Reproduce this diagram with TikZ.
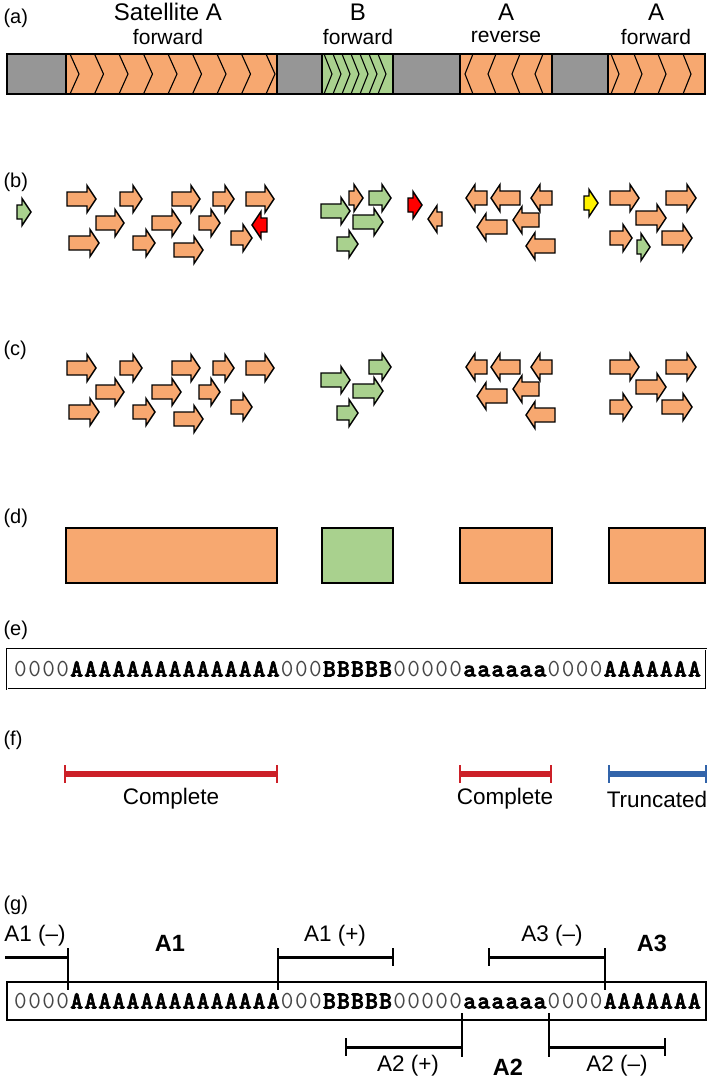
\documentclass[tikz,border=0pt]{standalone}
\usepackage{fontspec}
\setmainfont{Liberation Sans}
\newfontfamily\seqbold[FakeBold=2.5]{lmmonolt10-bold.otf}
\definecolor{sorange}{RGB}{247,168,112}
\definecolor{sgreen}{RGB}{169,209,142}
\definecolor{sgray}{RGB}{150,150,150}
\definecolor{fred}{RGB}{204,32,40}
\definecolor{fblue}{RGB}{50,100,170}
\definecolor{zgray}{RGB}{70,70,70}
\tikzset{
  arr/.style={draw=black, line width=1.4pt, line join=miter},
  seg/.style={draw=black, line width=1.2pt},
  chev/.style={draw=black, line width=1.1pt},
  panel/.style={anchor=west, font=\fontsize{20}{20}\selectfont},
  big/.style={font=\fontsize{24}{24}\selectfont},
  sub/.style={font=\fontsize{21}{21}\selectfont},
  lab/.style={font=\fontsize{22.5}{22.5}\selectfont},
  blab/.style={font=\bfseries\fontsize{23.5}{23.5}\selectfont},
  seq/.style={font=\ttfamily\fontsize{24.5}{24.5}\selectfont, inner sep=0pt},
  brk/.style={draw=black, line width=3pt},
  tick/.style={draw=black, line width=2.6pt},
  fline/.style={line width=5.5pt},
  ftick/.style={line width=2.4pt}
}
\newcommand{\rarw}[4]{\filldraw[arr,fill=#4] (#1,{#3-7}) -- ({#2-9},{#3-7}) -- ({#2-9},{#3-13.5}) -- (#2,#3) -- ({#2-9},{#3+13.5}) -- ({#2-9},{#3+7}) -- (#1,{#3+7}) -- cycle;}
\newcommand{\larw}[4]{\filldraw[arr,fill=#4] (#2,{#3-7}) -- ({#1+9},{#3-7}) -- ({#1+9},{#3-13.5}) -- (#1,#3) -- ({#1+9},{#3+13.5}) -- ({#1+9},{#3+7}) -- (#2,{#3+7}) -- cycle;}
\def\eachch#1{\ifx#1\relax\else\makebox[14.04pt]{#1}\expandafter\eachch\fi}
\newcommand{\zs}[1]{{\color{zgray}\eachch #1\relax}}
\newcommand{\ls}[1]{{\seqbold\fontsize{24.5}{24.5}\selectfont\eachch #1\relax}}
\newcommand{\seqtext}{\zs{0000}\ls{AAAAAAAAAAAAAAA}\zs{000}\ls{BBBBB}\zs{00000}\ls{aaaaaa}\zs{0000}\ls{AAAAAAA}}
\begin{document}
\begin{tikzpicture}[x=1pt,y=-1pt]
\useasboundingbox (0,0) rectangle (709,1080);
% ---------- (a)
\node[panel] (la) at (0,18) {(a)};
\node[big] (t1) at (168,12) {Satellite A};
\node[sub] (s1) at (168,37) {forward};
\node[big] (t2) at (358,12) {B};
\node[sub] (s2) at (358,37) {forward};
\node[big] (t3) at (506,12) {A};
\node[sub] (s3) at (506,37) {reverse};
\node[big] (t4) at (656,12) {A};
\node[sub] (s4) at (656,37) {forward};
\filldraw[seg,fill=sgray] (7,54) rectangle (66,94);
\filldraw[seg,fill=sorange] (66,54) rectangle (277,94);
\filldraw[seg,fill=sgray] (277,54) rectangle (322,94);
\filldraw[seg,fill=sgreen] (322,54) rectangle (393,94);
\filldraw[seg,fill=sgray] (393,54) rectangle (460,94);
\filldraw[seg,fill=sorange] (460,54) rectangle (552,94);
\filldraw[seg,fill=sgray] (552,54) rectangle (608,94);
\filldraw[seg,fill=sorange] (608,54) rectangle (705,94);
\foreach \x in {70,94.5,119,143.5,168,192.5,217,241.5,266}
  \draw[chev] (\x,54) -- (\x+9,74) -- (\x,94);
\foreach \x in {324,333,342,351,360,369,378}
  \draw[chev] (\x,54) -- (\x+8,74) -- (\x,94);
\foreach \x in {465,488,512,535}
  \draw[chev] (\x+8,54) -- (\x,74) -- (\x+8,94);
\foreach \x in {611,634,658,683}
  \draw[chev] (\x,54) -- (\x+8,74) -- (\x,94);
% ---------- (b)
\node[panel] (lb) at (0,182) {(b)};
\rarw{17}{31}{212}{sgreen}
\rarw{67}{96}{199}{sorange}
\rarw{120}{142}{199}{sorange}
\rarw{172}{200}{199}{sorange}
\rarw{213}{234}{199}{sorange}
\rarw{246}{274}{199}{sorange}
\rarw{96}{124}{223}{sorange}
\rarw{152}{181}{223}{sorange}
\rarw{199}{220}{223}{sorange}
\rarw{69}{99}{243}{sorange}
\rarw{133}{155}{243}{sorange}
\rarw{174}{203}{250}{sorange}
\rarw{231}{252}{238}{sorange}
\larw{252}{267}{225}{red}
\rarw{349}{363}{198}{sorange}
\rarw{321}{350}{211}{sgreen}
\rarw{369}{391}{198}{sgreen}
\rarw{353}{383}{222}{sgreen}
\rarw{337}{358}{244}{sgreen}
\rarw{408}{422}{205}{red}
\larw{428}{442}{219}{sorange}
\larw{466}{487}{198}{sorange}
\larw{491}{520}{198}{sorange}
\larw{531}{552}{198}{sorange}
\larw{477}{507}{227}{sorange}
\larw{513}{539}{220}{sorange}
\larw{526}{555}{246}{sorange}
\rarw{584}{598}{203}{yellow}
\rarw{610}{639}{198}{sorange}
\rarw{666}{696}{198}{sorange}
\rarw{636}{666}{218}{sorange}
\rarw{610}{632}{238}{sorange}
\rarw{662}{692}{238}{sorange}
\rarw{637}{650}{247}{sgreen}
% ---------- (c)
\node[panel] (lc) at (0,350) {(c)};
\begin{scope}[yshift=-169pt]
\rarw{67}{96}{199}{sorange}
\rarw{120}{142}{199}{sorange}
\rarw{172}{200}{199}{sorange}
\rarw{213}{234}{199}{sorange}
\rarw{246}{274}{199}{sorange}
\rarw{96}{124}{223}{sorange}
\rarw{152}{181}{223}{sorange}
\rarw{199}{220}{223}{sorange}
\rarw{69}{99}{243}{sorange}
\rarw{133}{155}{243}{sorange}
\rarw{174}{203}{250}{sorange}
\rarw{231}{252}{238}{sorange}
\rarw{321}{350}{211}{sgreen}
\rarw{369}{391}{198}{sgreen}
\rarw{353}{383}{222}{sgreen}
\rarw{337}{358}{244}{sgreen}
\larw{466}{487}{198}{sorange}
\larw{491}{520}{198}{sorange}
\larw{531}{552}{198}{sorange}
\larw{477}{507}{227}{sorange}
\larw{513}{539}{220}{sorange}
\larw{526}{555}{246}{sorange}
\rarw{610}{639}{198}{sorange}
\rarw{666}{696}{198}{sorange}
\rarw{636}{666}{218}{sorange}
\rarw{610}{632}{238}{sorange}
\rarw{662}{692}{238}{sorange}
\end{scope}
% ---------- (d)
\node[panel] (ld) at (0,518) {(d)};
\filldraw[seg,fill=sorange] (66,528) rectangle (277,583);
\filldraw[seg,fill=sgreen] (322,528) rectangle (393,583);
\filldraw[seg,fill=sorange] (460,528) rectangle (552,583);
\filldraw[seg,fill=sorange] (609,528) rectangle (705,583);
% ---------- (e)
\node[panel] (le) at (0,630) {(e)};
\draw[draw=black, line width=0.8pt, double=white, double distance=0.8pt] (7,649) rectangle (706,689);
\node[seq] (se) at (357.5,669) {\seqtext};
% ---------- (f)
\node[panel] (lf) at (0,740) {(f)};
\draw[fred,fline] (65,774) -- (277,774);
\draw[fred,ftick] (65,765) -- (65,783);
\draw[fred,ftick] (277,765) -- (277,783);
\node[lab] (c1) at (171,799) {Complete};
\draw[fred,fline] (460,774) -- (551,774);
\draw[fred,ftick] (460,765) -- (460,783);
\draw[fred,ftick] (551,765) -- (551,783);
\node[lab] (c2) at (505,799) {Complete};
\draw[fblue,fline] (609,774) -- (706,774);
\draw[fblue,ftick] (609,765) -- (609,783);
\draw[fblue,ftick] (706,765) -- (706,783);
\node[lab] (c3) at (657,799) {Truncated};
% ---------- (g)
\node[panel] (lg) at (0,905) {(g)};
\draw[draw=black, line width=1.3pt] (7,982) rectangle (706,1020);
\node[seq] (sg) at (357.5,1001) {\seqtext};
% upper brackets
\draw[brk] (5,957) -- (68,957);
\draw[tick] (68,948) -- (68,990);
\node[lab] (a1m) at (35,936) {A1 (\textendash)};
\node[blab] (a1) at (170,943) {A1};
\draw[brk] (278,957) -- (393,957);
\draw[tick] (278,948) -- (278,990);
\draw[tick] (393,948) -- (393,966);
\node[lab] (a1p) at (335,936) {A1 (+)};
\draw[brk] (489,957) -- (605,957);
\draw[tick] (489,948) -- (489,966);
\draw[tick] (605,948) -- (605,990);
\node[lab] (a3m) at (552,936) {A3 (\textendash)};
\node[blab] (a3) at (652,943) {A3};
% lower brackets
\draw[brk] (346,1047) -- (462,1047);
\draw[tick] (346,1038) -- (346,1056);
\draw[tick] (462,1013) -- (462,1057);
\node[lab] (a2p) at (408,1066) {A2 (+)};
\node[blab] (a2) at (508,1067) {A2};
\draw[brk] (549,1047) -- (665,1047);
\draw[tick] (549,1013) -- (549,1057);
\draw[tick] (665,1038) -- (665,1056);
\node[lab] (a2m) at (617,1066) {A2 (\textendash)};
\end{tikzpicture}
\end{document}
